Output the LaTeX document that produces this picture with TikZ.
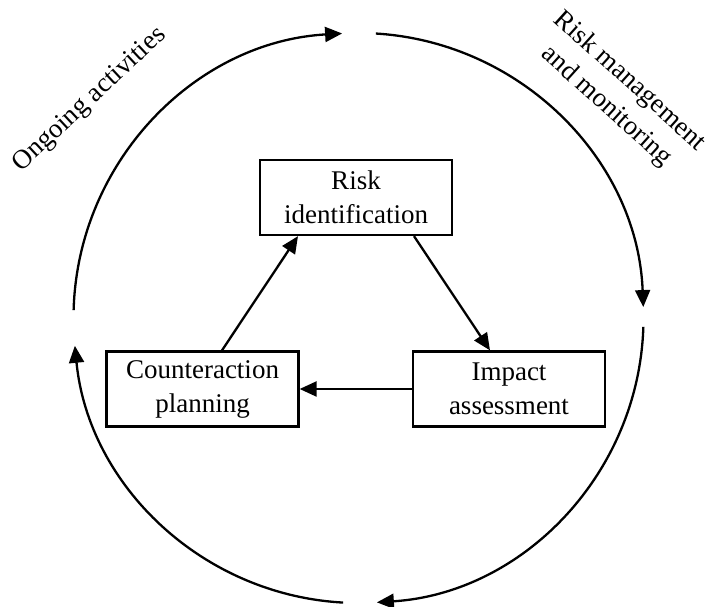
\documentclass[tikz,border=0pt]{standalone}
\usepackage{fontspec}
\setmainfont{Liberation Serif}
\usetikzlibrary{arrows.meta}
\begin{document}
\begin{tikzpicture}[x=1pt,y=1pt, line width=2.3pt,
  box/.style={draw, minimum width=192pt, minimum height=75pt, align=center, font=\fontsize{27}{34}\selectfont, inner sep=0pt},
  tip/.style={-{Triangle[length=17pt,width=15pt]}},
  lbl/.style={align=center, font=\fontsize{27}{34}\selectfont, inner sep=0pt}]
\useasboundingbox (0,0) rectangle (705,607);
\coordinate (c) at (358.5,289);
\node[box] (risk) at (356,409.5) {Risk\\identification};
\node[box] (counter) at (202.5,218) {Counteraction\\planning};
\node[box] (impact) at (509,218) {Impact\\assessment};
\draw[tip] ([xshift=58pt]risk.south) -- ([xshift=-19pt]impact.north);
\draw[tip] (impact.west) -- (counter.east);
\draw[tip] ([xshift=19.5pt]counter.north) -- ([xshift=-58pt]risk.south);
\draw[tip] (c) ++(178.4:285) arc[start angle=178.4, end angle=93.3, radius=285];
\draw[tip] (c) ++(86.5:285) arc[start angle=86.5, end angle=2.2, radius=285];
\draw[tip] (c) ++(-1.8:285) arc[start angle=-1.8, end angle=-86.3, radius=285];
\draw[tip] (c) ++(-93.1:285) arc[start angle=-93.1, end angle=-174.4, radius=285];
\node[lbl, rotate=43] (ongoing) at (90,507) {Ongoing activities};
\node[lbl, rotate=-42] (mgmt) at (618,513) {Risk management\\and monitoring};
\end{tikzpicture}
\end{document}
